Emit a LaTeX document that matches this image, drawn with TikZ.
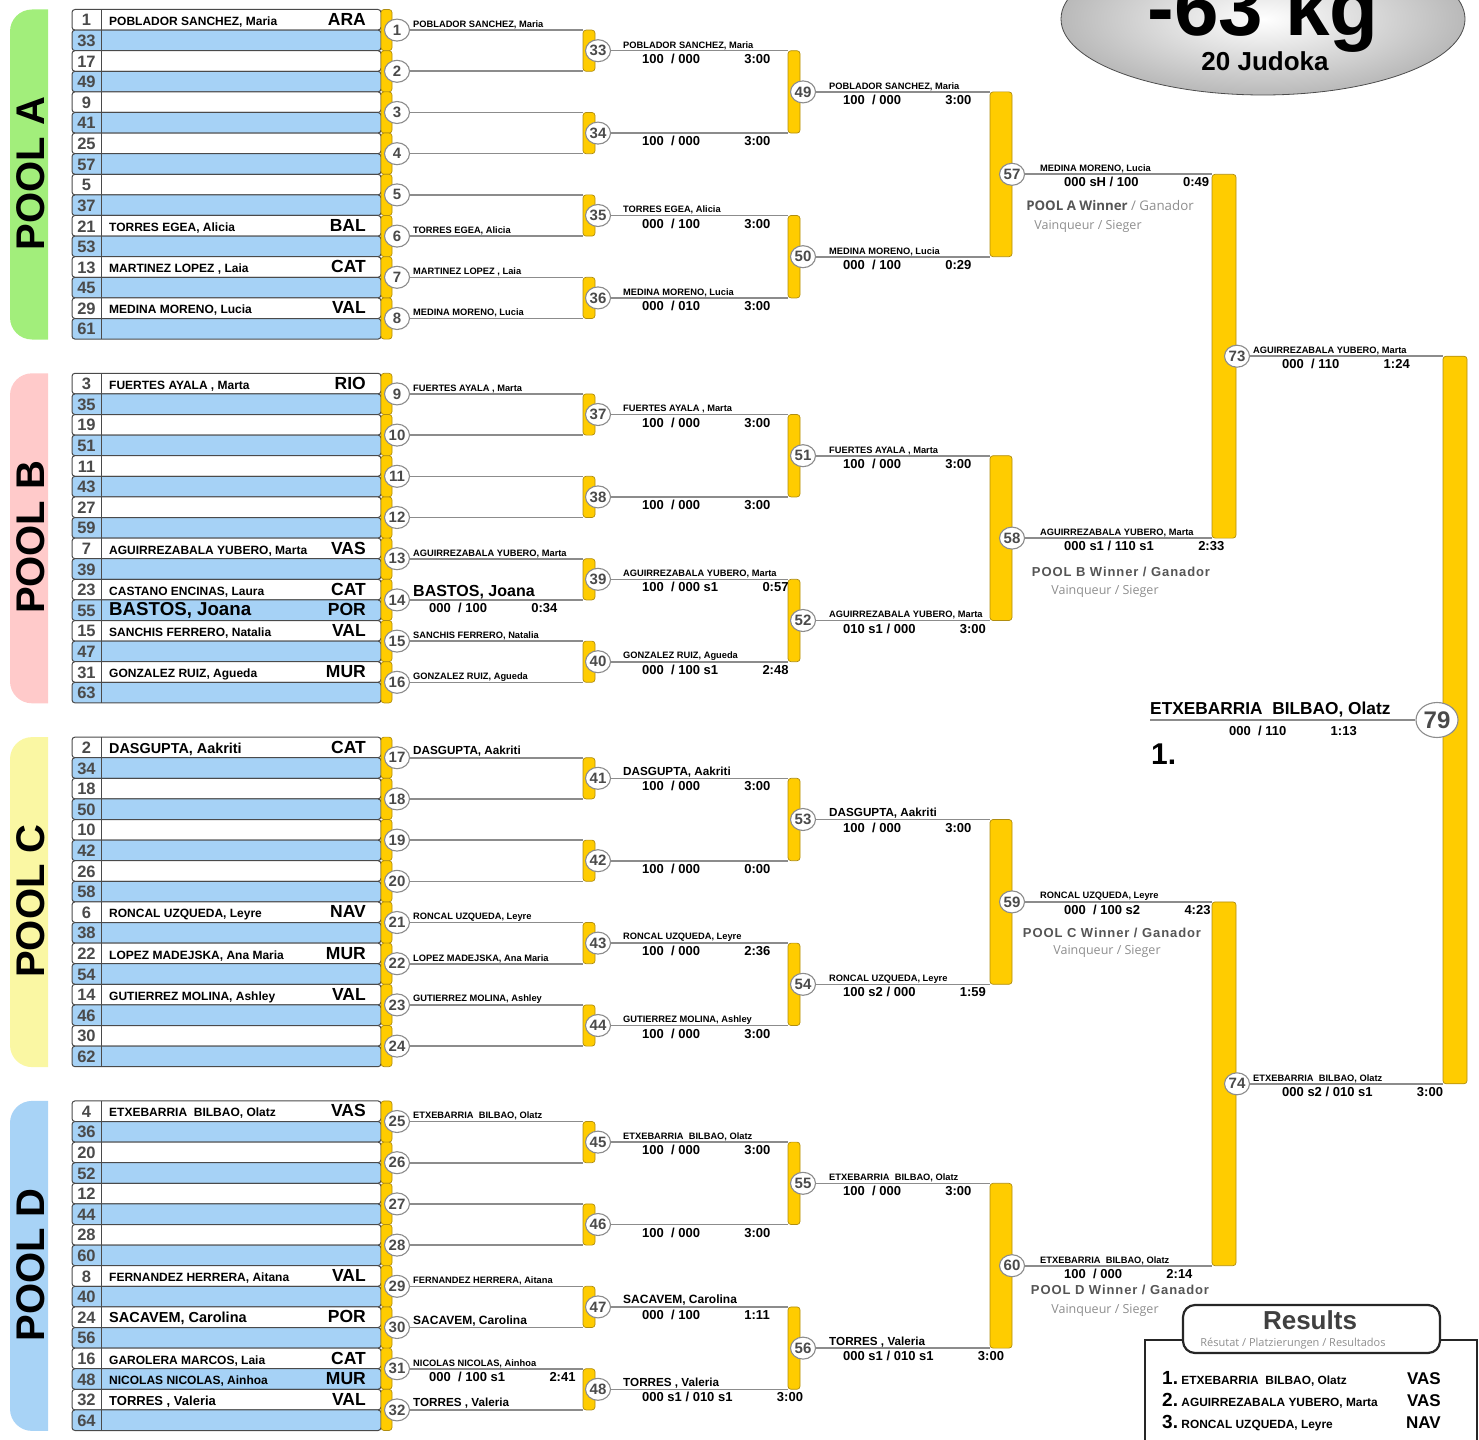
\documentclass[tikz,border=0pt]{standalone}
\usepackage{fontspec}
\setmainfont{Liberation Sans}
\newfontfamily\uifont{Open Sans}
\usetikzlibrary{positioning,shapes.geometric}

\definecolor{poolA}{HTML}{A2EE7B}
\definecolor{poolB}{HTML}{FFCACA}
\definecolor{poolC}{HTML}{FAF7A3}
\definecolor{poolD}{HTML}{A8D3F6}
\definecolor{rowBlue}{HTML}{A6D2F6}
\definecolor{judoYellow}{HTML}{FFCC00}
\definecolor{yellowEdge}{HTML}{B08D10}
\definecolor{lineGray}{HTML}{8C8C8C}
\definecolor{numGray}{HTML}{4A4A4A}
\definecolor{labelGray}{HTML}{555555}
\definecolor{softGray}{HTML}{8E8E8E}

\begin{document}
\begin{tikzpicture}[x=1pt, y=-1pt,
    rowbox/.style={draw=numGray, line width=1pt, rounded corners=3pt},
    ybar/.style={draw=yellowEdge, fill=judoYellow, line width=0.7pt, rounded corners=3pt, inner sep=0pt, outer sep=0pt},
    mcirc/.style={ellipse, draw=lineGray, fill=white, line width=1.1pt, inner sep=0pt, minimum width=25pt, minimum height=22pt, text=numGray, font=\bfseries\fontsize{15}{15}\selectfont},
    bline/.style={draw=lineGray, line width=1.6pt},
    seedno/.style={text=numGray, inner sep=0pt, font=\bfseries\fontsize{16.5}{16.5}\selectfont},
    nm/.style={anchor=south west, inner sep=0pt},
    scorelbl/.style={anchor=north west, inner sep=0pt, font=\bfseries\fontsize{13}{13}\selectfont},
    timelbl/.style={inner sep=0pt, font=\bfseries\fontsize{13}{13}\selectfont},
    winlbl/.style={inner sep=0pt, text=labelGray},
    vinlbl/.style={inner sep=0pt, text=softGray, font=\uifont\fontsize{12.5}{12.5}\selectfont},
]
    % Page frame, with the title and results box cut at the edges
    \useasboundingbox (0,0) rectangle (1479,1439);
    \clip (0,0) rectangle (1479,1439);

    % Title
    \node[ellipse, minimum width=404pt, minimum height=152pt, draw=gray!60!black, line width=0.8pt,
          inner color=white, outer color=gray!55] (title) at (1263,19) {};
    \node[anchor=base, inner sep=0pt, font=\bfseries\fontsize{80}{80}\selectfont] (weight) at (1263,35.5) {-63 kg};
    \node[anchor=base, inner sep=0pt, font=\bfseries\fontsize{26}{26}\selectfont] (count) at (1265,71) {20 Judoka};

    % The four pools: tab, seeding rows and the pool bracket
    \foreach \p/\pcol/\plab/\sbase in {0/poolA/A/1, 1/poolB/B/3, 2/poolC/C/2, 3/poolD/D/4} {
        \pgfmathsetmacro\ptop{9.5+363.8*\p}
        % coloured pool tab
        \begin{scope}
            \clip (0,\ptop) rectangle (48,\ptop+330);
            \fill[\pcol, rounded corners=22pt] (10,\ptop) rectangle (90,\ptop+330);
        \end{scope}
        \node[rotate=90, inner sep=0pt, font=\bfseries\fontsize{40}{40}\selectfont] (lbl\plab) at (31,\ptop+164) {POOL \plab};
        % seeding rows
        \foreach \i/\o in {0/0,1/32,2/16,3/48,4/8,5/40,6/24,7/56,8/4,9/36,10/20,11/52,12/12,13/44,14/28,15/60} {
            \pgfmathsetmacro\ry{\ptop+20.6*\i}
            \pgfmathtruncatemacro\seed{\sbase+\o}
            \ifodd\i \def\rc{rowBlue}\else \def\rc{white}\fi
            \draw[rowbox, fill=\rc] (72,\ry) rectangle (381,\ry+20.6);
            \draw[numGray, line width=1pt] (101,\ry) -- (101,\ry+20.6);
            \node[seedno] (seed\seed) at (86.5,\ry+10.8) {\seed};
        }
        % first round
        \foreach \j in {0,...,7} {
            \pgfmathtruncatemacro\mn{8*\p+\j+1}
            \pgfmathsetmacro\my{\ptop+20.6+41.2*\j}
            \node[ybar, minimum width=11pt, minimum height=41.2pt] (st\mn) at (386.5,\my) {};
            \node[mcirc] (m\mn) at (397,\my) {\mn};
        }
        % second round
        \foreach \k in {0,...,3} {
            \pgfmathtruncatemacro\mn{33+4*\p+\k}
            \pgfmathsetmacro\my{\ptop+41.2+82.4*\k}
            \node[ybar, minimum width=12pt, minimum height=41.2pt] (b\mn) at (589,\my) {};
            \node[mcirc] (m\mn) at (598,\my) {\mn};
        }
        % third round
        \foreach \k in {0,1} {
            \pgfmathtruncatemacro\mn{49+2*\p+\k}
            \pgfmathsetmacro\my{\ptop+82.4+164.8*\k}
            \node[ybar, minimum width=12pt, minimum height=82.4pt] (b\mn) at (794,\my) {};
            \node[mcirc] (m\mn) at (803,\my) {\mn};
        }
        % pool final
        \pgfmathtruncatemacro\mn{57+\p}
        \node[ybar, minimum width=22pt, minimum height=164.8pt] (b\mn) at (1001,\ptop+164.8) {};
        \node[mcirc] (m\mn) at (1012,\ptop+164.8) {\mn};
    }

    % Semi-finals and final
    \node[ybar, minimum width=24pt, minimum height=363.8pt] (b73) at (1224,356.2) {};
    \node[mcirc] (m73) at (1237,356.2) {73};
    \node[ybar, minimum width=24pt, minimum height=363.8pt] (b74) at (1224,1083.8) {};
    \node[mcirc] (m74) at (1237,1083.8) {74};
    \node[ybar, minimum width=24pt, minimum height=727.6pt] (b79) at (1455,720) {};
    \node[mcirc, minimum width=42pt, minimum height=35pt, font=\bfseries\fontsize{24}{24}\selectfont] (m79) at (1437,720) {79};

    % Connectors from each match to the next bracket
    \foreach \mn in {1,...,32} {
        \pgfmathtruncatemacro\up{33+int((\mn-1)/2)}
        \draw[bline] (m\mn) -- (m\mn -| b\up.west);
    }
    \foreach \mn in {33,...,48} {
        \pgfmathtruncatemacro\up{49+int((\mn-33)/2)}
        \draw[bline] (m\mn) -- (m\mn -| b\up.west);
    }
    \foreach \mn in {49,...,56} {
        \pgfmathtruncatemacro\up{57+int((\mn-49)/2)}
        \draw[bline] (m\mn) -- (m\mn -| b\up.west);
    }
    \foreach \mn in {57,...,60} {
        \pgfmathtruncatemacro\up{73+int((\mn-57)/2)}
        \draw[bline] (m\mn) -- (m\mn -| b\up.west);
    }
    \foreach \mn in {73,74} {
        \draw[bline] (m\mn) -- (m\mn -| b79.west);
    }
    \coordinate (finend) at (1150,720);
    \draw[bline] (m79) -- (finend);

    % Names and countries in the seeding rows
    \foreach \p/\i/\sname/\ssize/\scty in {
        0/0/{POBLADOR SANCHEZ, Maria}/12/ARA, 0/10/{TORRES EGEA, Alicia}/12/BAL,
        0/12/{MARTINEZ LOPEZ , Laia}/12/CAT, 0/14/{MEDINA MORENO, Lucia}/12/VAL,
        1/0/{FUERTES AYALA , Marta}/12/RIO, 1/8/{AGUIRREZABALA YUBERO, Marta}/12/VAS,
        1/10/{CASTANO ENCINAS, Laura}/12/CAT, 1/11/{BASTOS, Joana}/18.7/POR,
        1/12/{SANCHIS FERRERO, Natalia}/12/VAL, 1/14/{GONZALEZ RUIZ, Agueda}/12/MUR,
        2/0/{DASGUPTA, Aakriti}/14.4/CAT, 2/8/{RONCAL UZQUEDA, Leyre}/12/NAV,
        2/10/{LOPEZ MADEJSKA, Ana Maria}/12/MUR, 2/12/{GUTIERREZ MOLINA, Ashley}/12/VAL,
        3/0/{ETXEBARRIA~~BILBAO, Olatz}/12/VAS, 3/8/{FERNANDEZ HERRERA, Aitana}/12/VAL,
        3/10/{SACAVEM, Carolina}/14.5/POR, 3/12/{GAROLERA MARCOS, Laia}/12/CAT,
        3/13/{NICOLAS NICOLAS, Ainhoa}/12/MUR, 3/14/{TORRES , Valeria}/13/VAL} {
        \pgfmathsetmacro\ry{9.5+363.8*\p+20.6*\i}
        \node[anchor=base west, inner sep=0pt, font=\bfseries\fontsize{\ssize}{\ssize}\selectfont] (sn\p x\i) at (109,\ry+16) {\sname};
        \node[anchor=base east, inner sep=0pt, font=\bfseries\fontsize{17.5}{17.5}\selectfont] (cty\p x\i) at (366,\ry+16) {\scty};
    }

    % First round winners
    \foreach \mn/\mname/\msize/\mscore/\mtime in {
        1/{POBLADOR SANCHEZ, Maria}/9.3/{}/{}, 6/{TORRES EGEA, Alicia}/9.3/{}/{},
        7/{MARTINEZ LOPEZ , Laia}/9.3/{}/{}, 8/{MEDINA MORENO, Lucia}/9.3/{}/{},
        9/{FUERTES AYALA , Marta}/9.3/{}/{}, 13/{AGUIRREZABALA YUBERO, Marta}/9.3/{}/{},
        14/{BASTOS, Joana}/16/{000~~/ 100}/0:34, 15/{SANCHIS FERRERO, Natalia}/9.3/{}/{},
        16/{GONZALEZ RUIZ, Agueda}/9.3/{}/{}, 17/{DASGUPTA, Aakriti}/11.7/{}/{},
        21/{RONCAL UZQUEDA, Leyre}/9.3/{}/{}, 22/{LOPEZ MADEJSKA, Ana Maria}/9.3/{}/{},
        23/{GUTIERREZ MOLINA, Ashley}/9.3/{}/{}, 25/{ETXEBARRIA~~BILBAO, Olatz}/9.3/{}/{},
        29/{FERNANDEZ HERRERA, Aitana}/9.3/{}/{}, 30/{SACAVEM, Carolina}/12/{}/{},
        31/{NICOLAS NICOLAS, Ainhoa}/9.3/{000~~/ 100 s1}/2:41, 32/{TORRES , Valeria}/11.7/{}/{}} {
        \node[nm, font=\bfseries\fontsize{\msize}{\msize}\selectfont] (nm\mn) at ([shift={(16,-1)}]m\mn.center) {\mname};
        \node[scorelbl] (sc\mn) at ([shift={(32,3)}]m\mn.center) {\mscore};
        \node[timelbl, right=44pt of sc\mn] (tm\mn) {\mtime};
    }

    % Second round
    \foreach \mn/\mname/\msize/\mscore/\mtime in {
        33/{POBLADOR SANCHEZ, Maria}/9.3/{100~~/ 000}/3:00, 34/{}/9.3/{100~~/ 000}/3:00,
        35/{TORRES EGEA, Alicia}/9.3/{000~~/ 100}/3:00, 36/{MEDINA MORENO, Lucia}/9.3/{000~~/ 010}/3:00,
        37/{FUERTES AYALA , Marta}/9.3/{100~~/ 000}/3:00, 38/{}/9.3/{100~~/ 000}/3:00,
        39/{AGUIRREZABALA YUBERO, Marta}/9.3/{100~~/ 000 s1}/0:57, 40/{GONZALEZ RUIZ, Agueda}/9.3/{000~~/ 100 s1}/2:48,
        41/{DASGUPTA, Aakriti}/11.7/{100~~/ 000}/3:00, 42/{}/9.3/{100~~/ 000}/0:00,
        43/{RONCAL UZQUEDA, Leyre}/9.3/{100~~/ 000}/2:36, 44/{GUTIERREZ MOLINA, Ashley}/9.3/{100~~/ 000}/3:00,
        45/{ETXEBARRIA~~BILBAO, Olatz}/9.3/{100~~/ 000}/3:00, 46/{}/9.3/{100~~/ 000}/3:00,
        47/{SACAVEM, Carolina}/12/{000~~/ 100}/1:11, 48/{TORRES , Valeria}/11.7/{000 s1 / 010 s1}/3:00} {
        \node[nm, font=\bfseries\fontsize{\msize}{\msize}\selectfont] (nm\mn) at ([shift={(25,-1)}]m\mn.center) {\mname};
        \node[scorelbl] (sc\mn) at ([shift={(44,3)}]m\mn.center) {\mscore};
        \node[timelbl, right=44pt of sc\mn] (tm\mn) {\mtime};
    }

    % Third round
    \foreach \mn/\mname/\msize/\mscore/\mtime in {
        49/{POBLADOR SANCHEZ, Maria}/9.3/{100~~/ 000}/3:00, 50/{MEDINA MORENO, Lucia}/9.3/{000~~/ 100}/0:29,
        51/{FUERTES AYALA , Marta}/9.3/{100~~/ 000}/3:00, 52/{AGUIRREZABALA YUBERO, Marta}/9.3/{010 s1 / 000}/3:00,
        53/{DASGUPTA, Aakriti}/11.7/{100~~/ 000}/3:00, 54/{RONCAL UZQUEDA, Leyre}/9.3/{100 s2 / 000}/1:59,
        55/{ETXEBARRIA~~BILBAO, Olatz}/9.3/{100~~/ 000}/3:00, 56/{TORRES , Valeria}/11.7/{000 s1 / 010 s1}/3:00} {
        \node[nm, font=\bfseries\fontsize{\msize}{\msize}\selectfont] (nm\mn) at ([shift={(26,-1)}]m\mn.center) {\mname};
        \node[scorelbl] (sc\mn) at ([shift={(40,3)}]m\mn.center) {\mscore};
        \node[timelbl, right=44pt of sc\mn] (tm\mn) {\mtime};
    }

    % Pool finals
    \foreach \mn/\mname/\mscore/\mtime in {
        57/{MEDINA MORENO, Lucia}/{000 sH / 100}/0:49, 58/{AGUIRREZABALA YUBERO, Marta}/{000 s1 / 110 s1}/2:33,
        59/{RONCAL UZQUEDA, Leyre}/{000~~/ 100 s2}/4:23, 60/{ETXEBARRIA~~BILBAO, Olatz}/{100~~/ 000}/2:14} {
        \node[nm, font=\bfseries\fontsize{9.3}{9.3}\selectfont] (nm\mn) at ([shift={(28,-1)}]m\mn.center) {\mname};
        \node[scorelbl] (sc\mn) at ([shift={(52,3)}]m\mn.center) {\mscore};
        \node[timelbl, right=44pt of sc\mn] (tm\mn) {\mtime};
    }

    % Semi-finals
    \foreach \mn/\mname/\mscore/\mtime in {
        73/{AGUIRREZABALA YUBERO, Marta}/{000~~/ 110}/1:24, 74/{ETXEBARRIA~~BILBAO, Olatz}/{000 s2 / 010 s1}/3:00} {
        \node[nm, font=\bfseries\fontsize{9.3}{9.3}\selectfont] (nm\mn) at ([shift={(16,-1)}]m\mn.center) {\mname};
        \node[scorelbl] (sc\mn) at ([shift={(45,3)}]m\mn.center) {\mscore};
        \node[timelbl, right=44pt of sc\mn] (tm\mn) {\mtime};
    }

    % Final
    \node[nm, font=\bfseries\fontsize{17.3}{17.3}\selectfont] (nm79) at (1150,717.5) {ETXEBARRIA~~BILBAO, Olatz};
    \node[scorelbl] (sc79) at (1229,726) {000~~/ 110};
    \node[timelbl, right=44pt of sc79] (tm79) {1:13};
    \node[anchor=base west, inner sep=0pt, font=\bfseries\fontsize{30}{30}\selectfont] (place1) at (1151,764) {1.};

    % Pool winner notes
    \node[winlbl, font=\uifont\bfseries\fontsize{13.3}{13.3}\selectfont] (winA) at (1110,206) {POOL A Winner {\mdseries\color{softGray}/ Ganador}};
    \node[vinlbl] (vinA) at (1088,226) {Vainqueur / Sieger};
    \foreach \plab/\wx/\wy/\vx/\vy in {B/1121/572/1105/591, C/1112/933/1107/951, D/1120/1290/1105/1310} {
        \node[winlbl, font=\bfseries\fontsize{13}{13}\selectfont\addfontfeature{LetterSpace=7}] (win\plab) at (\wx,\wy) {POOL \plab\ Winner / Ganador};
        \node[vinlbl] (vin\plab) at (\vx,\vy) {Vainqueur / Sieger};
    }

    % Results box
    \draw[black!85, line width=2.2pt] (1145,1460) -- (1145,1340) -- (1477,1340) -- (1477,1460);
    \node[draw=black!85, line width=2.2pt, fill=white, rounded corners=12pt, inner sep=0pt,
          minimum width=257pt, minimum height=48pt] (restab) at (1311.5,1329) {};
    \node[inner sep=0pt, text=black!75, font=\bfseries\fontsize{26}{26}\selectfont] (reshead) at (1310,1320) {Results};
    \node[inner sep=0pt, text=softGray, font=\uifont\fontsize{11}{11}\selectfont] (ressub) at (1293,1344) {Résutat / Platzierungen / Resultados};
    \foreach \r/\rname/\rcty/\ry in {1/{ETXEBARRIA~~BILBAO, Olatz}/VAS/1384,
                                     2/{AGUIRREZABALA YUBERO, Marta}/VAS/1406,
                                     3/{RONCAL UZQUEDA, Leyre}/NAV/1428} {
        \node[anchor=base west, inner sep=0pt, font=\bfseries\fontsize{19}{19}\selectfont] (rno\r) at (1162,\ry) {\r.};
        \node[anchor=base west, inner sep=0pt, font=\bfseries\fontsize{11.9}{11.9}\selectfont] (rnm\r) at ([xshift=3pt]rno\r.base east) {\rname};
        \node[anchor=base east, inner sep=0pt, font=\bfseries\fontsize{17}{17}\selectfont] (rcty\r) at (1441,\ry) {\rcty};
    }
\end{tikzpicture}
\end{document}
